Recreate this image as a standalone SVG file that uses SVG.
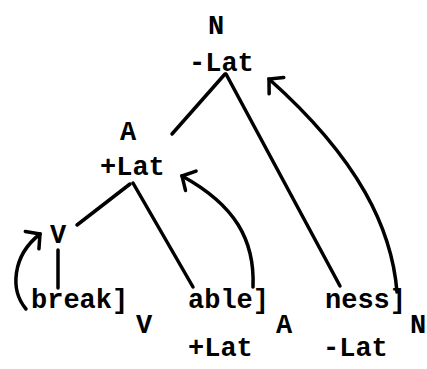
<svg xmlns="http://www.w3.org/2000/svg" width="427" height="369" viewBox="0 0 427 369">
<defs>
<style>
text{font-family:"Liberation Mono","DejaVu Sans Mono",monospace;font-weight:bold;font-size:27px;fill:#000}
.m{text-anchor:middle}
.ln{stroke:#000;stroke-width:3.5;fill:none;stroke-linecap:round}
.ar{stroke:#000;stroke-width:3.5;fill:none;stroke-linecap:round;marker-end:url(#ah)}
</style>
<marker id="ah" viewBox="-14 -14 18 28" refX="0" refY="0" markerWidth="18" markerHeight="28" markerUnits="userSpaceOnUse" orient="auto">
<path d="M-10,-11 L0,0 L-10,11" fill="none" stroke="#000" stroke-width="3.5" stroke-linejoin="miter" stroke-linecap="round"/>
</marker>
</defs>
<rect width="427" height="369" fill="#fff"/>
<g id="connectors">
<line class="ln" x1="225" y1="74" x2="172" y2="134"/>
<line class="ln" x1="226" y1="74" x2="340" y2="286"/>
<line class="ln" x1="130" y1="184" x2="77" y2="225"/>
<line class="ln" x1="133" y1="183" x2="193" y2="287"/>
<line class="ln" x1="58" y1="250" x2="58" y2="288"/>
<path class="ar" d="M397,292 C392,230 360,160 269,79"/>
<path class="ar" d="M253,287 C255,240 235,205 182,176"/>
<path class="ar" d="M26,309 C10,290 12,256 40,234"/>
</g>
<g id="node-N"><text class="m" x="216" y="34">N</text><text x="189" y="71">-Lat</text></g>
<g id="node-A"><text class="m" x="128" y="140">A</text><text x="100" y="175">+Lat</text></g>
<g id="node-V"><text class="m" x="58" y="243">V</text></g>
<g id="node-break"><text x="31" y="308">break]</text><text class="m" x="144" y="333">V</text></g>
<g id="node-able"><text x="188" y="308">able]</text><text class="m" x="284" y="333">A</text><text x="188" y="356">+Lat</text></g>
<g id="node-ness"><text x="325" y="308">ness]</text><text class="m" x="418" y="333">N</text><text x="323" y="356">-Lat</text></g>
</svg>
